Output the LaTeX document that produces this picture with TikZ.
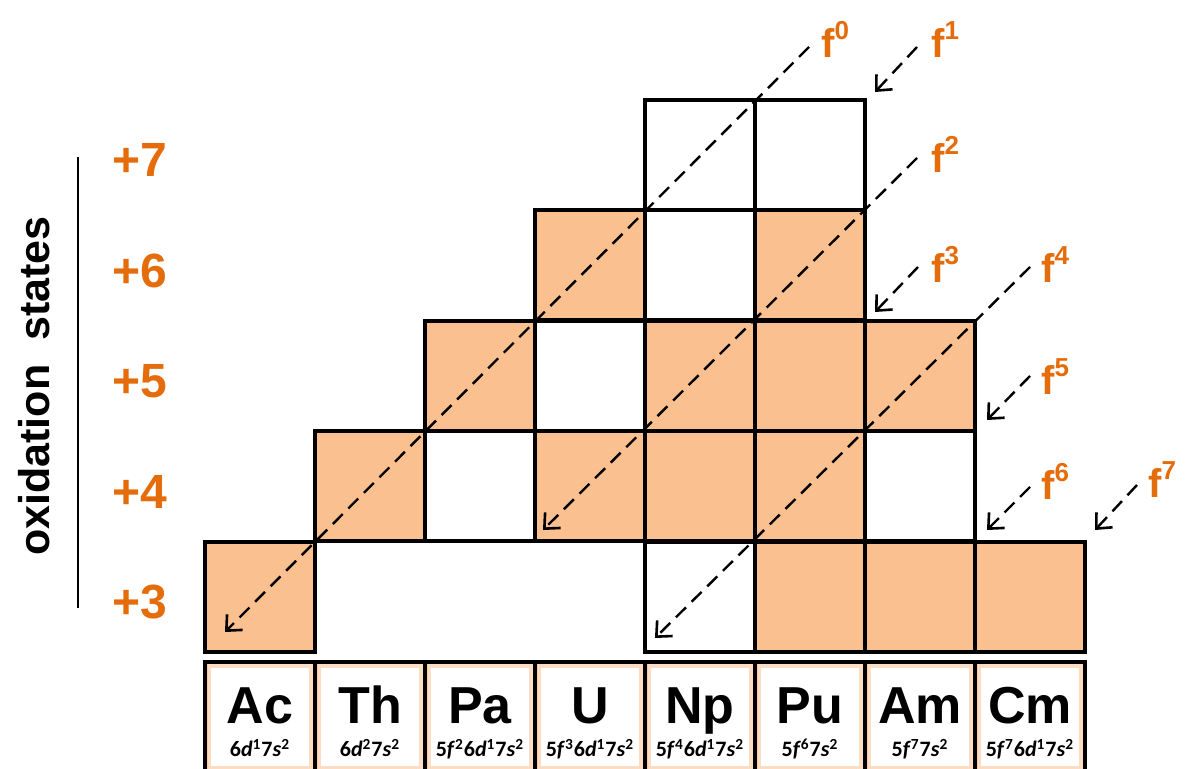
\documentclass[tikz,border=0pt]{standalone}
\usepackage{fontspec}
\setmainfont{Liberation Sans}
\newfontfamily\cfgfont{Carlito}
\usetikzlibrary{arrows.meta,positioning}
\definecolor{oxorange}{RGB}{228,108,10}
\definecolor{peach}{RGB}{250,192,144}
% orbital term: digit, letter, occupation
\newcommand\orb[3]{#1\textit{#2}\textsuperscript{#3}}
\newcommand\fsup[1]{f\raisebox{0.45em}{\fontsize{13}{13}\selectfont #1}}
\tikzset{
  cell/.style={draw, line width=2pt, minimum size=55pt, inner sep=0pt},
  full/.style={cell, fill=peach},
  blank/.style={cell, fill=white},
  ostate/.style={text=oxorange, font=\bfseries\fontsize{24}{24}\selectfont},
  flabel/.style={text=oxorange, font=\bfseries\fontsize{20}{20}\selectfont, anchor=base west, inner sep=0pt},
  farrow/.style={dash pattern=on 7pt off 4pt, line width=1.2pt, -{Straight Barb[length=6pt,width=11pt,line width=1.3pt]}},
  elem/.style={draw, line width=2pt, minimum width=55pt, minimum height=55pt, inner sep=0pt, fill=white,
    path picture={\draw[peach!55, line width=6pt] (path picture bounding box.south west) rectangle (path picture bounding box.north east);
                  \draw[peach!85, line width=2.5pt] (path picture bounding box.south west) rectangle (path picture bounding box.north east);}},
  sym/.style={anchor=base, font=\bfseries\fontsize{26}{26}\selectfont},
  cfg/.style={anchor=base, font=\cfgfont\bfseries\fontsize{11}{11}\selectfont},
}
\begin{document}
\begin{tikzpicture}[x=0.5pt,y=-0.5pt]
\useasboundingbox (0,0) rectangle (1185,769);

% axis title
\node[rotate=90, font=\bfseries\fontsize{21.5}{21.5}\selectfont] (title) at (34,386) {oxidation\ \ states};
\coordinate (axtop) at (78,157);
\coordinate (axbot) at (78,608);
\draw[line width=1pt] (axtop) -- (axbot);

% oxidation state numbers
\foreach \s in {3,...,7}
  \node[ostate] (ox\s) at (140,{602-110.5*(\s-3)}) {+\s};

% grid of cells
\foreach \n/\c/\s/\st in {ac3/0/3/full, np3/4/3/blank, pu3/5/3/full, am3/6/3/full, cm3/7/3/full,
    th4/1/4/full, pa4/2/4/blank, u4/3/4/full, np4/4/4/full, pu4/5/4/full, am4/6/4/blank,
    pa5/2/5/full, u5/3/5/blank, np5/4/5/full, pu5/5/5/full, am5/6/5/full,
    u6/3/6/full, np6/4/6/blank, pu6/5/6/full,
    np7/4/7/blank, pu7/5/7/blank}
  \node[\st] (\n) at ({260+110*\c},{597-110.5*(\s-3)}) {};

% element row
\foreach \n/\c/\el/\conf in {Ac/0/Ac/{\orb6d1\orb7s2},
    Th/1/Th/{\orb6d2\orb7s2},
    Pa/2/Pa/{\orb5f2\orb6d1\orb7s2},
    U/3/U/{\orb5f3\orb6d1\orb7s2},
    Np/4/Np/{\orb5f4\orb6d1\orb7s2},
    Pu/5/Pu/{\orb5f6\orb7s2},
    Am/6/Am/{\orb5f7\orb7s2},
    Cm/7/Cm/{\orb5f7\orb6d1\orb7s2}} {
  \node[elem] (el\n) at ({260+110*\c},717) {};
  \node[sym] (sy\n) at ({260+110*\c},724) {\el};
  \node[cfg] (cf\n) at ({260+110*\c},757) {\conf};
}

% f-count labels
\node[flabel] (f0) at (821,58) {\fsup0};
\node[flabel] (f1) at (931,58) {\fsup1};
\node[flabel] (f2) at (931,173) {\fsup2};
\node[flabel] (f3) at (931,283) {\fsup3};
\node[flabel] (f4) at (1041,283) {\fsup4};
\node[flabel] (f5) at (1041,395) {\fsup5};
\node[flabel] (f6) at (1041,500) {\fsup6};
\node[flabel] (f7) at (1148,498) {\fsup7};

% dashed diagonals
\foreach \k/\xa/\ya/\xb/\yb in {0/809/47/225/632, 1/917/47/875/92, 2/917/158/543/530,
    3/918/267/875/312, 4/1030/267/655/638, 5/1030/376/987/420,
    6/1030/487/987/530, 7/1137/485/1095/530} {
  \coordinate (fs\k) at (\xa,\ya);
  \coordinate (fe\k) at (\xb,\yb);
  \draw[farrow] (fs\k) -- (fe\k);
}
\end{tikzpicture}
\end{document}
